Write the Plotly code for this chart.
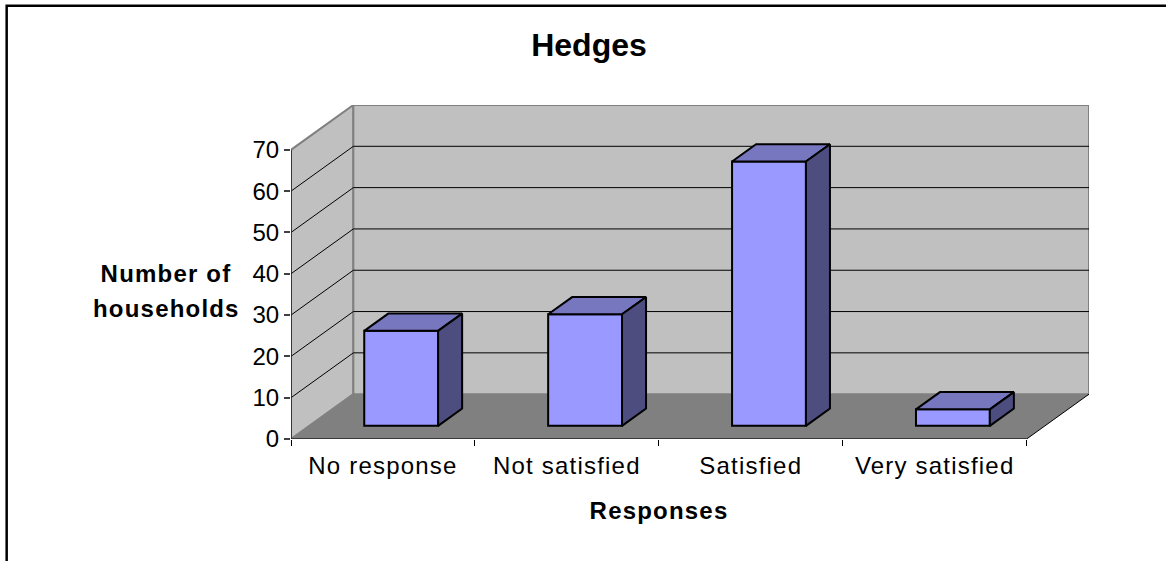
import plotly.graph_objects as go

title = "Hedges"
categories = ["No response", "Not satisfied", "Satisfied", "Very satisfied"]
values = [23, 27, 64, 4]
y_ticks = [0, 10, 20, 30, 40, 50, 60, 70]
x_title = "Responses"
y_title_lines = ["Number of", "households"]

# Projection of the 3D box, in axis units
PX_CAT = 183.75          # px per category
PX_UNIT = 4.146          # px per value unit
DEPTH_X = 62.3 / PX_CAT  # wall depth
DEPTH_Y = 45.0 / PX_UNIT
BAR_W = 73.8 / PX_CAT
BAR_DX = 24.0 / PX_CAT   # bar depth
BAR_DY = 17.3 / PX_UNIT
BASE_X = 18.2 / PX_CAT   # bar offset from the front edge
BASE_Y = 13.2 / PX_UNIT

n = len(categories)
top = y_ticks[-1]
x_max = n + DEPTH_X
y_max = top + DEPTH_Y


def path(pts):
    return "M " + " L ".join(f"{x:.4f} {y:.4f}" for x, y in pts) + " Z"


shapes = [
    dict(type="path", path=path([(0, 0), (DEPTH_X, DEPTH_Y), (DEPTH_X, y_max), (0, top)]),
         fillcolor="#c0c0c0", line=dict(color="#808080", width=2), layer="below"),
    dict(type="path", path=path([(DEPTH_X, DEPTH_Y), (x_max, DEPTH_Y), (x_max, y_max), (DEPTH_X, y_max)]),
         fillcolor="#c0c0c0", line=dict(color="#808080", width=2), layer="below"),
    dict(type="path", path=path([(0, 0), (n, 0), (x_max, DEPTH_Y), (DEPTH_X, DEPTH_Y)]),
         fillcolor="#808080", line=dict(color="#808080", width=0), layer="below"),
    dict(type="line", x0=n, y0=0, x1=x_max, y1=DEPTH_Y,
         line=dict(color="#000000", width=1), layer="below"),
]
for t in y_ticks[1:-1]:
    shapes.append(dict(type="line", x0=0, y0=t, x1=DEPTH_X, y1=t + DEPTH_Y,
                       line=dict(color="#000000", width=1), layer="below"))
    shapes.append(dict(type="line", x0=DEPTH_X, y0=t + DEPTH_Y, x1=x_max, y1=t + DEPTH_Y,
                       line=dict(color="#000000", width=1), layer="below"))

# Page frame: left and top edges only
shapes.append(dict(type="path", xref="paper", yref="paper",
                   path="M -0.3563 -0.3700 L -0.3563 1.2975 L 1.1000 1.2975",
                   line=dict(color="#000000", width=2.5), layer="above"))

centers = [i + 0.5 + BASE_X for i in range(n)]
fig = go.Figure()
fig.add_trace(go.Bar(x=centers, y=values, base=BASE_Y, width=BAR_W,
                     marker=dict(color="#9999ff", line=dict(color="#000000", width=2)),
                     hoverinfo="skip"))

for c, v in zip(centers, values):
    l, r = c - BAR_W / 2, c + BAR_W / 2
    t = BASE_Y + v
    fig.add_trace(go.Scatter(
        x=[l, l + BAR_DX, r + BAR_DX, r, l], y=[t, t + BAR_DY, t + BAR_DY, t, t],
        mode="lines", fill="toself", fillcolor="#7777bf",
        line=dict(color="#000000", width=2), hoverinfo="skip"))
    fig.add_trace(go.Scatter(
        x=[r, r + BAR_DX, r + BAR_DX, r, r],
        y=[t, t + BAR_DY, BASE_Y + BAR_DY, BASE_Y, t],
        mode="lines", fill="toself", fillcolor="#4d4d80",
        line=dict(color="#000000", width=2), hoverinfo="skip"))

FONT = "Liberation Sans, Arial, sans-serif"
fig.update_layout(
    width=1166, height=561,
    margin=dict(l=290.5, r=77, t=105, b=121.5),
    paper_bgcolor="#ffffff", plot_bgcolor="#ffffff",
    showlegend=False,
    shapes=shapes,
    font=dict(family=FONT, size=24, color="#000000"),
    barmode="overlay",
    title=dict(text=f"<b>{title}</b>", x=589 / 1166, xref="container", xanchor="center",
               y=0.92, yanchor="middle", font=dict(size=32)),
    xaxis=dict(range=[0, x_max], showgrid=False, zeroline=False, showline=False,
               tickmode="array", tickvals=[i + 0.5 for i in range(n)], ticktext=categories,
               ticks="", ticklen=0, ticklabelstandoff=10,
               minor=dict(tickmode="array", tickvals=list(range(n + 1)), ticks="outside",
                          ticklen=6, tickcolor="#000000", tickwidth=1, showgrid=False),
               tickfont=dict(size=24)),
    yaxis=dict(range=[0, y_max], showgrid=False, zeroline=False, showline=False,
               tickmode="array", tickvals=y_ticks,
               ticks="outside", ticklen=6, tickcolor="#404040", tickwidth=1.5,
               tickfont=dict(size=24)),
    annotations=[
        dict(text=f"<b>{y_title_lines[0]}</b>", xref="paper", yref="paper", x=-0.1559, y=0.495,
             xanchor="center", yanchor="middle", showarrow=False, font=dict(size=24)),
        dict(text=f"<b>{y_title_lines[1]}</b>", xref="paper", yref="paper", x=-0.1559, y=0.39,
             xanchor="center", yanchor="middle", showarrow=False, font=dict(size=24)),
        dict(text=f"<b>{x_title}</b>", xref="paper", yref="paper", x=0.4615, y=-0.215,
             xanchor="center", yanchor="middle", showarrow=False, font=dict(size=24)),
    ],
)
# Axis lines (drawn to the category and value extents)
fig.add_trace(go.Scatter(x=[0, 0, n], y=[top, 0, 0], mode="lines",
                         line=dict(color="#202020", width=1.5), cliponaxis=False, hoverinfo="skip"))

POST = """
document.body.style.margin='0';document.body.style.overflow='hidden';
document.querySelectorAll('.xtick text').forEach(function(e){e.style.letterSpacing='1.2px';});
document.querySelectorAll('.annotation-text').forEach(function(e){e.style.letterSpacing='1.2px';});
"""
fig.write_html("out.html", post_script=POST, config={"displayModeBar": False})
